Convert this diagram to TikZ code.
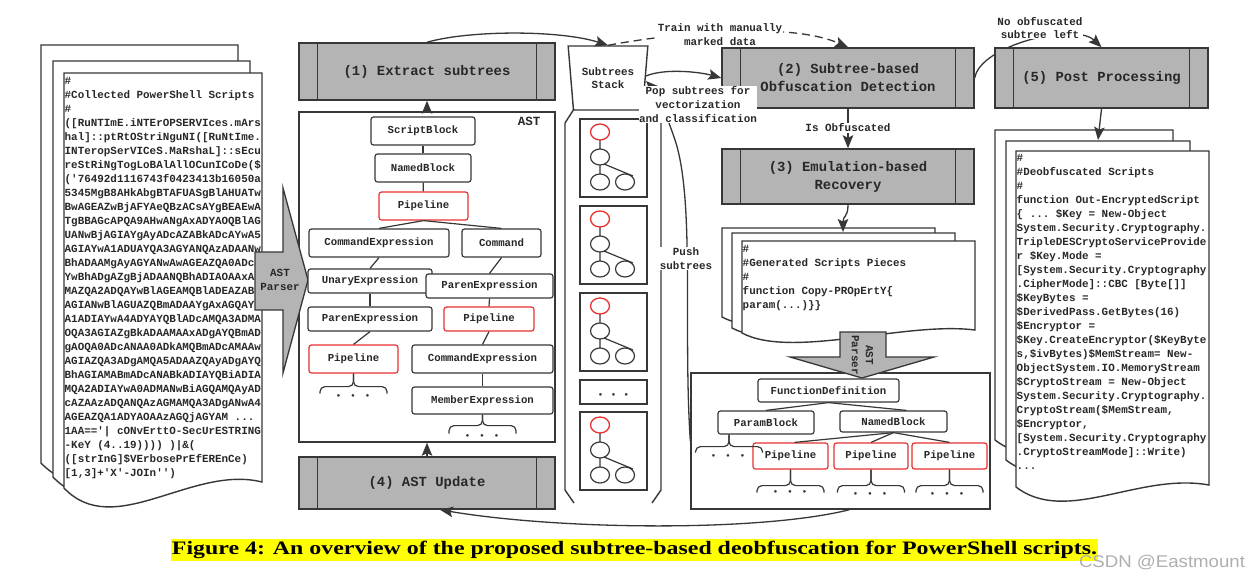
\documentclass[tikz,border=0pt]{standalone}
\usepackage{fontspec}
\usepackage{graphicx}
\setmainfont{Liberation Serif}
\setmonofont{Liberation Mono}
\newfontfamily\wmfont{Liberation Sans}
\usetikzlibrary{arrows.meta,shapes.geometric}
\pgfdeclarelayer{bg}
\pgfdeclarelayer{fg}
\pgfsetlayers{bg,main,fg}
\definecolor{lc}{RGB}{55,55,55}
\definecolor{tc}{RGB}{40,40,40}
\definecolor{boxgray}{RGB}{180,180,180}
\definecolor{pred}{RGB}{232,48,48}
\definecolor{hl}{RGB}{255,255,0}
\definecolor{wm}{RGB}{175,175,175}
\tikzset{
 proc/.style={draw=lc, fill=boxgray, line width=1.5pt, text=tc, align=center, inner sep=0pt, font=\ttfamily\bfseries\fontsize{13.9}{18}\selectfont},
 tn/.style={draw=lc, fill=white, rounded corners=2.5pt, line width=1.2pt, text=tc, inner sep=0pt, font=\ttfamily\bfseries\fontsize{10.7}{12}\selectfont},
 rn/.style={tn, draw=pred},
 lab/.style={fill=white, text=tc, align=center, inner sep=0.5pt, font=\ttfamily\bfseries\fontsize{10.9}{13.8}\selectfont},
 code/.style={text=tc, inner sep=0pt, anchor=north west, font=\ttfamily\bfseries\fontsize{10.9}{14}\selectfont},
 ln/.style={draw=lc, line width=1.2pt},
 arr/.style={draw=lc, line width=1.3pt, -{Stealth[length=13pt,width=10.5pt,inset=2.5pt]}},
 page/.style={draw=lc, fill=white, line width=1.4pt},
 bigarr/.style={draw=lc, fill=boxgray, line width=1.3pt, line join=miter},
 dotsn/.style={text=lc, inner sep=0pt, font=\rmfamily\fontsize{11}{11}\selectfont},
 frame/.style={draw=lc, line width=1.4pt, inner sep=0pt},
 plabel/.style={text=tc, align=center, inner sep=0pt, font=\ttfamily\bfseries\fontsize{10.9}{14}\selectfont},
}
\newcommand\procl[1]{\draw[ln, line width=1.3pt] ([xshift=19pt]#1.north west) -- ([xshift=19pt]#1.south west) ([xshift=-19pt]#1.north east) -- ([xshift=-19pt]#1.south east);}
\newcommand\docpage[6]{\filldraw[page] (#3,#5) -- (#3,#2) -- (#1,#2) -- (#1,#4) .. controls +(50,{2.4*#6}) and +(-70,{-0.8*#6}) .. (#3,#5) -- cycle;}
\newcommand\brc[4]{\draw[ln, rounded corners=5pt] (#1) -- ++(0,#3) -| ++(-#2,#4); \draw[ln, rounded corners=5pt] (#1) -- ++(0,#3) -| ++(#2,#4);}
\newcommand\treeicon[2]{%
 \draw[ln, line width=1.4pt] (#1,#2) rectangle ++(67,78);
 \draw[ln] (#1+20,#2+21) -- (#1+20,#2+30) (#1+20,#2+46) -- (#1+20,#2+55) (#1+24,#2+45) -- (#1+53,#2+57);
 \draw[draw=pred, line width=1.3pt] (#1+20,#2+13) ellipse [x radius=9.5pt, y radius=8pt];
 \draw[ln] (#1+20,#2+38) ellipse [x radius=9.5pt, y radius=8pt] (#1+20,#2+63) ellipse [x radius=9.5pt, y radius=8pt] (#1+45,#2+63) ellipse [x radius=9.5pt, y radius=8pt];}
\begin{document}
\begin{tikzpicture}[x=1pt,y=-1pt]
\begin{pgfonlayer}{bg}
\fill[white] (0,0) rectangle (1246,579);
\end{pgfonlayer}
\useasboundingbox (0,0) rectangle (1246,579);

% ---------- collected scripts ----------
\docpage{41}{45}{238}{463}{458}{22}
\docpage{53}{61}{250}{477}{472}{22}
\docpage{64}{73}{262}{488}{482}{22}
\node[code] (srctext) at (64.5,74.2) {\begin{tabular}{@{}l@{}}
\#\\
\#Collected PowerShell Scripts\\
\#\\
([RuNTImE.iNTErOPSERVIces.mArs\\
hal]::ptRtOStriNguNI([RuNtIme.\\
INTeropSerVICeS.MaRshaL]::sEcu\\
reStRiNgTogLoBAlAllOCunICoDe(\$\\
('76492d1116743f0423413b16050a\\
5345MgB8AHkAbgBTAFUASgBlAHUATw\\
BwAGEAZwBjAFYAeQBzACsAYgBEAEwA\\
TgBBAGcAPQA9AHwANgAxADYAOQBlAG\\
UANwBjAGIAYgAyADcAZABkADcAYwA5\\
AGIAYwA1ADUAYQA3AGYANQAzADAANw\\
BhADAAMgAyAGYANwAwAGEAZQA0ADc\\
YwBhADgAZgBjADAANQBhADIAOAAxA\\
MAZQA2ADQAYwBlAGEAMQBlADEAZAB\\
AGIANwBlAGUAZQBmADAAYgAxAGQAY\\
A1ADIAYwA4ADYAYQBlADcAMQA3ADMA\\
OQA3AGIAZgBkADAAMAAxADgAYQBmAD\\
gAOQA0ADcANAA0ADkAMQBmADcAMAAw\\
AGIAZQA3ADgAMQA5ADAAZQAyADgAYQ\\
BhAGIAMABmADcANABkADIAYQBiADIA\\
MQA2ADIAYwA0ADMANwBiAGQAMQAyAD\\
cAZAAzADQANQAzAGMAMQA3ADgANwA4\\
AGEAZQA1ADYAOAAzAGQjAGYAM ...\\
1AA=='| cONvErttO-SecUrESTRING\\
-KeY (4..19)))) )|\&(\\
([strInG]\$VErbosePrEfEREnCe)\\
{}[1,3]+'X'-JOIn'')
\end{tabular}};

% ---------- AST (upper) ----------
\node[proc, minimum width=256pt, minimum height=57pt] (b1) at (427,71.5) {(1) Extract subtrees};
\procl{b1}
\node[frame, minimum width=256pt, minimum height=330pt] (ast) at (427,277) {};
\node[text=tc, inner sep=0pt, font=\ttfamily\bfseries\fontsize{12.5}{12.5}\selectfont] (astlab) at (529,121.5) {AST};
\node[proc, minimum width=256pt, minimum height=52pt] (b4) at (427,483) {(4) AST Update};
\procl{b4}
\draw[arr] (ast.north) -- (b1.south);
\draw[arr] (b4.north) -- (ast.south);

\filldraw[bigarr] (255,252) -- (283,252) -- (283,188) -- (308,280) -- (283,373) -- (283,310) -- (255,310) -- cycle;
\node[plabel] (parser1) at (280,280) {AST\\Parser};

\node[tn, minimum width=104pt, minimum height=28pt] (sb) at (423,131) {ScriptBlock};
\node[tn, minimum width=96pt, minimum height=28pt] (nb) at (423,168) {NamedBlock};
\node[rn, minimum width=89pt, minimum height=28pt] (p0) at (423.5,206) {Pipeline};
\node[tn, minimum width=140pt, minimum height=28pt] (ce1) at (379,243) {CommandExpression};
\node[tn, minimum width=79pt, minimum height=28pt] (cmd) at (501.5,243) {Command};
\node[tn, minimum width=124pt, minimum height=24pt] (ue) at (370,281) {UnaryExpression};
\node[tn, minimum width=127pt, minimum height=24pt] (pe2) at (489.5,286) {ParenExpression};
\node[tn, minimum width=124pt, minimum height=24pt] (pe1) at (370,319) {ParenExpression};
\node[rn, minimum width=90pt, minimum height=24pt] (p2) at (489,319) {Pipeline};
\node[rn, minimum width=89pt, minimum height=28pt] (p1) at (353.5,359) {Pipeline};
\node[tn, minimum width=141pt, minimum height=28pt] (ce2) at (482.5,359) {CommandExpression};
\node[tn, minimum width=141pt, minimum height=27pt] (me) at (482.5,400.5) {MemberExpression};
\draw[ln] (sb) -- (nb);
\draw[ln] (nb) -- (p0);
\draw[ln] (p0.south) -- (ce1.north);
\draw[ln] (p0.south) -- (cmd.north);
\draw[ln] (ce1.south) -- (ue.north);
\draw[ln] (cmd.south) -- (pe2.north);
\draw[ln] (ue.south) -- (pe1.north);
\draw[ln] (pe2.south) -- (p2.north);
\draw[ln] (pe1.south) -- (p1.north);
\draw[ln] (p2.south) -- (ce2.north);
\draw[ln] (ce2.south) -- (me.north);
\brc{p1.south}{33.5}{13}{7}
\node[dotsn] (dp1) at (353,397) {•\kern10.6pt•\kern10.6pt•};
\brc{me.south}{33.5}{11}{8}
\node[dotsn] (dme) at (482,437) {•\kern10.6pt•\kern10.6pt•};

% ---------- stack ----------
\node[trapezium, trapezium stretches=true, trapezium left angle=79.4, trapezium right angle=79.4, shape border rotate=180, minimum width=80pt, minimum height=64pt, draw=lc, fill=white, line width=1.4pt, inner sep=0pt, text=tc, align=center, font=\ttfamily\bfseries\fontsize{10.9}{13.5}\selectfont] (stk) at (608,78) {Subtrees\\Stack};
\draw[ln, line width=1.4pt] (574,109) -- (565,123) -- (565,490) -- (574,503);
\draw[ln, line width=1.4pt] (652,109) -- (661,123) -- (661,490) -- (652,503);
\treeicon{580}{119}
\treeicon{580}{206}
\treeicon{580}{293}
\draw[ln, line width=1.4pt] (580,380) rectangle (647,404);
\node[dotsn] (dstk) at (613.5,396) {•\kern9pt•\kern9pt•};
\treeicon{580}{412}

% ---------- detection / recovery / post ----------
\node[proc, minimum width=252pt, minimum height=60pt] (b2) at (848,78) {(2) Subtree-based\\Obfuscation Detection};
\procl{b2}
\node[proc, minimum width=252pt, minimum height=55pt] (b3) at (848,176.5) {(3) Emulation-based\\Recovery};
\procl{b3}
\node[proc, minimum width=213pt, minimum height=60pt] (b5) at (1101.5,78) {(5) Post Processing};
\procl{b5}

% ---------- generated pieces ----------
\docpage{722}{228}{935}{317}{312}{11}
\docpage{732}{233}{955}{328}{322}{11}
\docpage{742}{241}{975}{333}{330}{11}
\node[code] (gentext) at (742.5,242.2) {\begin{tabular}{@{}l@{}}
\#\\
\#Generated Scripts Pieces\\
\#\\
function Copy-PROpErtY\{\\
param(...)\}\}
\end{tabular}};
\coordinate (gdtop) at (843,232);

% ---------- AST (lower) ----------
\node[frame, minimum width=299pt, minimum height=136pt] (lowbox) at (840.5,441) {};
\filldraw[bigarr] (840,332) -- (886,332) -- (886,357) -- (934,357) -- (862,378) -- (790,357) -- (840,357) -- cycle;
\node[plabel, rotate=-90] (parser2) at (862.5,355) {AST\\Parser};
\node[tn, minimum width=141pt, minimum height=23pt] (fd) at (828.5,390.5) {FunctionDefinition};
\node[tn, minimum width=96pt, minimum height=23pt] (pb) at (766,422.5) {ParamBlock};
\node[tn, minimum width=107pt, minimum height=21pt] (nb2) at (893.5,421.5) {NamedBlock};
\node[rn, minimum width=75pt, minimum height=26pt] (q1) at (790.5,456) {Pipeline};
\node[rn, minimum width=74pt, minimum height=26pt] (q2) at (871,456) {Pipeline};
\node[rn, minimum width=75pt, minimum height=26pt] (q3) at (949.5,456) {Pipeline};
\draw[ln] (fd.south) -- (pb.north);
\draw[ln] (fd.south) -- ([xshift=13pt]nb2.north);
\draw[ln] (nb2.south) -- ([xshift=4pt]q1.north);
\draw[ln] (nb2.south) -- (q2.north);
\draw[ln] (nb2.south) -- (q3.north);
\brc{[xshift=-37pt]pb.south}{33.5}{12}{6}
\node[dotsn] (dpb) at (728,457) {•\kern10.6pt•\kern10.6pt•};
\brc{q1.south}{33.5}{16}{7}
\node[dotsn] (dq1) at (790,493) {•\kern10.6pt•\kern10.6pt•};
\brc{q2.south}{33.5}{16}{7}
\node[dotsn] (dq2) at (870,495) {•\kern10.6pt•\kern10.6pt•};
\brc{q3.south}{33.5}{16}{7}
\node[dotsn] (dq3) at (947,495) {•\kern10.6pt•\kern10.6pt•};

% ---------- deobfuscated scripts ----------
\docpage{995}{130}{1173}{440}{436}{16}
\docpage{1006}{141}{1190}{460}{456}{16}
\docpage{1016}{151}{1209}{487}{485}{16}
\node[code] (deobtext) at (1016.5,151.2) {\begin{tabular}{@{}l@{}}
\#\\
\#Deobfuscated Scripts\\
\#\\
function Out-EncryptedScript\\
\{ ... \$Key = New-Object\\
System.Security.Cryptography.\\
TripleDESCryptoServiceProvide\\
r \$Key.Mode =\\
{}[System.Security.Cryptography\\
.CipherMode]::CBC [Byte[]]\\
\$KeyBytes =\\
\$DerivedPass.GetBytes(16)\\
\$Encryptor =\\
\$Key.CreateEncryptor(\$KeyByte\\
s,\$ivBytes)\$MemStream= New-\\
ObjectSystem.IO.MemoryStream\\
\$CryptoStream = New-Object\\
System.Security.Cryptography.\\
CryptoStream(\$MemStream,\\
\$Encryptor,\\
{}[System.Security.Cryptography\\
.CryptoStreamMode]::Write)\\
...
\end{tabular}};
\coordinate (ddtop) at (1098,140);

% ---------- connectors ----------
\draw[arr] (b1.north) .. controls (470,30) and (560,30) .. (stk.north);
\draw[arr, dash pattern=on 8pt off 5pt] (stk.north) .. controls (680,32) and (790,22) .. (b2.north);
\draw[arr] ([yshift=2pt]stk.east) .. controls (665,68) and (700,72) .. (b2.west);
\draw[arr] (b2.south) -- (b3.north);
\draw[arr] (b3.south) .. controls (848,218) and (843,215) .. (gdtop);
\draw[arr] (b5.south) -- (ddtop);
\draw[arr] (lowbox.west) .. controls (683,330) and (695,200) .. (675,140) .. controls (665,110) and (655,90) .. ([yshift=-3pt]stk.east);
\draw[arr] ([xshift=9pt]lowbox.south) .. controls (760,532) and (560,530) .. ([xshift=13pt]b4.south);
\begin{pgfonlayer}{bg}
\draw[arr] (b2.east) .. controls (980,45) and (1075,22) .. (b5.north);
\end{pgfonlayer}

\begin{pgfonlayer}{fg}
\node[lab] (ltrain) at (720,35) {Train with manually\\marked data};
\node[lab] (lpop) at (698,104.5) {Pop subtrees for\\vectorization\\and classification};
\node[lab] (lpush) at (686,258.5) {Push\\subtrees};
\node[lab] (lisob) at (848,128) {Is Obfuscated};
\node[lab] (lnoob) at (1040,28) {No obfuscated\\subtree left};
\end{pgfonlayer}

% ---------- caption ----------
\node[fill=hl, inner xsep=1pt, inner ysep=2pt, text=black] (cap) at (634.5,550) {\resizebox{925pt}{\height}{\fontsize{19}{22}\selectfont\bfseries Figure 4: An overview of the proposed subtree-based deobfuscation for PowerShell scripts.}};
\node[text=wm, inner sep=0pt] (wmk) at (1162,563) {\resizebox{166pt}{\height}{\wmfont\fontsize{17}{17}\selectfont CSDN @Eastmount}};
\end{tikzpicture}
\end{document}
